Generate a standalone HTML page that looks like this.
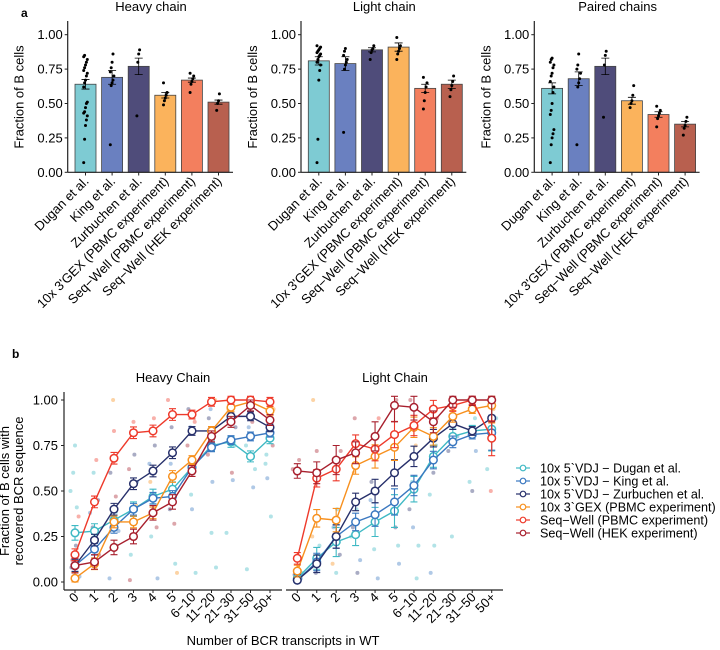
<!DOCTYPE html>
<html><head><meta charset="utf-8"><style>
body{margin:0;background:#fff;}
svg{display:block;font-family:"Liberation Sans",Arial,sans-serif;}
</style></head><body>
<svg id="fig" width="720" height="650" viewBox="0 0 720 650"></svg>
<script>
// ---------- Panel a data ----------
const barCats = ["Dugan et al.","King et al.","Zurbuchen et al.","10x 3'GEX (PBMC experiment)","Seq\u2212Well (PBMC experiment)","Seq\u2212Well (HEK experiment)"];
const barTitles = ["Heavy chain","Light chain","Paired chains"];
const heavyMeans = [0.64,0.69,0.77,0.56,0.67,0.51];
const heavyErr = [0.035,0.05,0.06,0.02,0.015,0.015];
const lightMeans = [0.81,0.79,0.89,0.91,0.61,0.64];
const lightErr = [0.03,0.05,0.015,0.03,0.03,0.03];
const pairedMeans = [0.61,0.68,0.77,0.52,0.42,0.35];
const pairedErr = [0.04,0.05,0.06,0.025,0.02,0.02];
const heavyDots = [[0.07,0.24,0.34,0.38,0.41,0.43,0.44,0.47,0.5,0.51,0.62,0.65,0.67,0.7,0.72,0.74,0.76,0.78,0.8,0.82,0.84,0.85],[0.2,0.63,0.65,0.67,0.7,0.73,0.76,0.8,0.86],[0.41,0.8,0.86,0.89],[0.49,0.52,0.54,0.56,0.58,0.65],[0.58,0.64,0.66,0.68,0.7,0.72],[0.45,0.5,0.52,0.57]];
const lightDots = [[0.07,0.24,0.67,0.74,0.78,0.8,0.82,0.84,0.85,0.86,0.87,0.88,0.89,0.9,0.91,0.92],[0.29,0.75,0.78,0.8,0.82,0.85,0.88,0.9],[0.82,0.87,0.89,0.9,0.92],[0.82,0.86,0.88,0.9,0.92,0.98],[0.46,0.52,0.58,0.62,0.65,0.69],[0.55,0.6,0.63,0.66,0.7]];
const pairedDots = [[0.07,0.2,0.25,0.28,0.31,0.42,0.45,0.5,0.58,0.62,0.66,0.7,0.72,0.76,0.78,0.8,0.82,0.83],[0.2,0.62,0.65,0.68,0.72,0.75,0.78,0.86],[0.4,0.78,0.85,0.88],[0.47,0.5,0.52,0.56,0.63],[0.33,0.39,0.41,0.43,0.45,0.48],[0.27,0.32,0.34,0.37,0.4]];
const barTicks = [0,0.25,0.5,0.75,1.0];

// ---------- Panel b data ----------
const lineCats = ["0","1","2","3","4","5","6\u221210","11\u221220","21\u221230","31\u221250","50+"];
const seriesNames = ["10x 5`VDJ \u2212 Dugan et al.","10x 5`VDJ \u2212 King et al.","10x 5`VDJ \u2212 Zurbuchen et al.","10x 3`GEX (PBMC experiment)","Seq\u2212Well (PBMC experiment)","Seq\u2212Well (HEK experiment)"];
const heavyDugan = [0.27,0.28,0.34,0.40,0.47,0.51,0.63,0.75,0.77,0.69,0.79];
const heavyKing = [0.09,0.18,0.30,0.40,0.46,0.47,0.63,0.74,0.78,0.80,0.82];
const heavyZurb = [0.09,0.23,0.40,0.54,0.61,0.71,0.83,0.83,0.91,0.91,0.85];
const heavyGex = [0.02,0.10,0.33,0.33,0.38,0.58,0.67,0.83,0.96,0.99,0.94];
const heavySeqPbmc = [0.15,0.44,0.68,0.82,0.83,0.92,0.92,0.99,1.0,1.0,0.99];
const heavyHek = [0.09,0.11,0.19,0.25,0.38,0.44,0.61,0.80,0.88,0.97,0.89];
const lightDugan = [0.02,0.13,0.22,0.26,0.33,0.39,0.51,0.69,0.80,0.83,0.84];
const lightKing = [0.01,0.11,0.25,0.33,0.37,0.44,0.53,0.67,0.77,0.81,0.82];
const lightZurb = [0.01,0.10,0.25,0.44,0.50,0.60,0.69,0.79,0.87,0.83,0.90];
const lightGex = [0.06,0.35,0.34,0.64,0.69,0.74,0.85,0.80,0.91,0.95,0.97];
const lightSeqPbmc = [0.13,0.57,0.62,0.76,0.73,0.81,0.86,0.95,0.97,1.0,0.79];
const lightHek = [0.61,0.60,0.67,0.71,0.80,0.97,0.96,0.88,1.0,1.0,1.0];
const lineErr = [0.04,0.04,0.04,0.04,0.04,0.04,0.03,0.03,0.03,0.03,0.03];
const lightErrHigh = [0.04,0.06,0.08,0.06,0.08,0.09,0.07,0.06,0.04,0.03,0.12];
const lineTicks = [0,0.25,0.5,0.75,1.0];
// scatter: [category index, value, series index]
const heavyScatter = [[0,0.5,0],[0,0.41,0],[0,0.6,0],[0,0.03,1],[0,0.2,2],[0,0.12,5],[0,0.36,4],[0,0.75,0],[0,0.08,2],[0,0.15,0],[1,0.6,0],[1,0.38,1],[1,0.67,4],[1,0.3,2],[1,0.15,5],[1,0.08,3],[1,0.22,0],[1,0.45,2],[2,0.83,4],[2,0.6,2],[2,0.2,0],[2,1.0,3],[2,0.02,1],[2,0.47,5],[2,0.35,0],[2,0.28,1],[3,0.7,2],[3,0.15,0],[3,0.55,1],[3,0.88,4],[3,0.01,5],[3,0.42,3],[3,0.32,0],[3,0.62,5],[4,0.75,2],[4,0.25,0],[4,0.02,1],[4,0.9,4],[4,0.55,3],[4,0.3,5],[4,0.45,0],[4,0.65,1],[5,0.1,0],[5,0.85,2],[5,1.0,4],[5,0.32,5],[5,0.65,1],[5,0.05,3],[5,0.5,0],[5,0.4,2],[6,0.05,0],[6,0.4,1],[6,0.95,2],[6,0.88,4],[6,0.48,0],[6,0.75,5],[6,0.65,0],[6,0.85,1],[7,0.08,0],[7,0.55,1],[7,0.9,2],[7,1.0,3],[7,0.27,0],[7,0.7,5],[7,0.8,0],[7,0.95,1],[8,0.27,0],[8,0.56,1],[8,1.0,4],[8,0.85,2],[8,0.6,5],[8,0.95,3],[8,0.75,0],[8,0.9,1],[9,0.07,0],[9,0.52,1],[9,0.95,2],[9,0.75,0],[9,0.88,5],[9,0.85,1],[9,0.62,0],[10,0.36,0],[10,0.57,1],[10,0.95,3],[10,1.0,4],[10,0.7,0],[10,0.75,5],[10,0.85,2],[10,0.65,0]];
const lightScatter = [[0,0.62,5],[0,0.67,5],[0,0.0,1],[0,0.05,0],[0,0.09,3],[0,0.04,2],[0,0.02,1],[1,0.72,5],[1,1.0,3],[1,0.2,0],[1,0.05,2],[1,0.25,3],[1,0.15,1],[1,0.1,0],[2,0.72,5],[2,0.4,0],[2,0.3,1],[2,0.15,2],[2,0.05,0],[2,0.1,3],[2,0.22,1],[3,0.9,5],[3,0.25,0],[3,0.05,2],[3,0.6,3],[3,0.12,1],[3,0.4,0],[3,0.3,2],[4,0.9,4],[4,0.35,0],[4,0.55,2],[4,0.02,1],[4,0.18,0],[4,0.45,1],[5,1.0,5],[5,0.6,0],[5,0.1,1],[5,0.3,2],[5,0.8,3],[5,0.2,0],[5,0.45,0],[6,1.0,5],[6,0.02,0],[6,0.3,1],[6,0.4,2],[6,0.75,3],[6,0.55,0],[6,0.2,0],[7,0.2,0],[7,0.05,1],[7,0.9,4],[7,0.6,2],[7,0.48,0],[7,0.75,0],[8,0.25,0],[8,0.72,2],[8,1.0,5],[8,0.9,0],[8,0.8,1],[8,0.85,0],[9,0.55,0],[9,0.72,1],[9,0.5,2],[9,1.0,4],[9,0.9,0],[10,0.5,4],[10,0.62,0],[10,0.95,3],[10,0.8,1],[10,0.9,0]];
const lineColors = ["#3fb9c4","#3a78c0","#27306b","#f7901e","#ee3a2b","#a8202e"];
const barColors = ["#7ecbd3","#6a80c0","#4f4c7a","#fbb35c","#f37f5e","#b8604f"];

const NS = "http://www.w3.org/2000/svg";
const svg = document.getElementById('fig');
function mk(tag, attrs, parent, text){
  const e = document.createElementNS(NS, tag);
  for (const k in attrs) e.setAttribute(k, attrs[k]);
  if (text !== undefined) e.textContent = text;
  (parent||svg).appendChild(e);
  return e;
}

// ---------- Panel a ----------
let t = mk('text',{x:21,y:17,'font-size':12,'font-weight':'bold'},svg,'a');


const barSets = [[heavyMeans,heavyErr,heavyDots],[lightMeans,lightErr,lightDots],[pairedMeans,pairedErr,pairedDots]];
const yA = v => 172.3 - v*137.6;
barSets.forEach((set,p)=>{
  const off = p*233.3;
  const g = mk('g',{});
  
  
  const axX = 67.7+off;
  const tt = mk('text',{x:151+off,y:11,'font-size':13,'text-anchor':'middle'},g,barTitles[p]);
  
  
  const yt = mk('text',{x:0,y:0,'font-size':13,'text-anchor':'middle',transform:`translate(${axX-44},${97}) rotate(-90)`},g,'Fraction of B cells');
  
  
  barTicks.forEach(v=>{
    mk('line',{x1:axX-3,x2:axX,y1:yA(v),y2:yA(v),stroke:'#222'},g);
    const l = mk('text',{x:axX-5,y:yA(v)+4.5,'font-size':13,'text-anchor':'end'},g,v.toFixed(2));
    
    
  });
  set[0].forEach((m,i)=>{
    const cx = 85.5+off+i*26.6;
    const r = mk('rect',{x:cx-10.5,y:yA(m),width:21,height:yA(0)-yA(m),fill:barColors[i],stroke:'#444','stroke-width':0.8},g);
    
    
    set[2][i].forEach((d,j)=>{
      mk('circle',{cx:cx+((j%5)-2)*0.9,cy:yA(d),r:1.5,fill:'#000'},g);
    });
    const e = set[1][i];
    mk('path',{d:`M${cx} ${yA(m-e)}V${yA(m+e)}M${cx-4} ${yA(m-e)}H${cx+4}M${cx-4} ${yA(m+e)}H${cx+4}`,stroke:'#000','stroke-width':0.8,fill:'none'},g);
    mk('line',{x1:cx,x2:cx,y1:172.3,y2:175.5,stroke:'#222'},g);
    const lab = mk('text',{x:0,y:0,'font-size':13,'text-anchor':'end',transform:`translate(${cx+4},${182}) rotate(-45)`},g,barCats[i]);
    
    
  });
  mk('line',{x1:axX,x2:axX,y1:21,y2:172.3,stroke:'#222','stroke-width':1.2},g);
  mk('line',{x1:axX,x2:233+off,y1:172.3,y2:172.3,stroke:'#222','stroke-width':1.2},g);
});

// ---------- Panel b ----------
t = mk('text',{x:12,y:358,'font-size':12,'font-weight':'bold'},svg,'b');


const yB = v => 582 - v*182;
const lineSets = [
  {x0:75, step:19.5, ax0:64, ax1:282, title:'Heavy Chain', tx:173, ser:[heavyDugan,heavyKing,heavyZurb,heavyGex,heavySeqPbmc,heavyHek], sc:heavyScatter, err:lineErr},
  {x0:297.3, step:19.44, ax0:286, ax1:503, title:'Light Chain', tx:395, ser:[lightDugan,lightKing,lightZurb,lightGex,lightSeqPbmc,lightHek], sc:lightScatter, err:lightErrHigh}
];
lineSets.forEach((P,p)=>{
  const g = mk('g',{});
  
  
  const xB = i => P.x0 + i*P.step;
  const tt = mk('text',{x:P.tx,y:382,'font-size':13,'text-anchor':'middle'},g,P.title);
  
  
  P.sc.forEach((d,k)=>{
    mk('circle',{cx:xB(d[0])+((k*7)%11-5)*0.9,cy:yB(d[1]),r:2,fill:lineColors[d[2]],opacity:0.4},g);
  });
  P.ser.forEach((vals,s)=>{
    const sg = mk('g',{},g);
    
    
    let d='';
    vals.forEach((v,i)=>{ d += (i?'L':'M')+xB(i)+' '+yB(v); });
    mk('path',{d:d,stroke:lineColors[s],'stroke-width':1.4,fill:'none'},sg);
    vals.forEach((v,i)=>{
      const e = P.err[i]*(s===0||s===5?1:0.8);
      const x = xB(i);
      mk('path',{d:`M${x} ${yB(Math.max(0,v-e))}V${yB(Math.min(1.02,v+e))}M${x-3.5} ${yB(Math.max(0,v-e))}H${x+3.5}M${x-3.5} ${yB(Math.min(1.02,v+e))}H${x+3.5}`,stroke:lineColors[s],'stroke-width':1.1,fill:'none'},sg);
      const c = mk('circle',{cx:x,cy:yB(v),r:3.8,fill:'#fff',stroke:lineColors[s],'stroke-width':1.5},sg);
      
      
    });
  });
  lineCats.forEach((c,i)=>{
    mk('line',{x1:xB(i),x2:xB(i),y1:590,y2:593,stroke:'#222'},g);
    const l = mk('text',{x:0,y:0,'font-size':13,'text-anchor':'end',transform:`translate(${xB(i)+4.5},${598}) rotate(-45)`},g,c);
    
    
  });
  mk('line',{x1:P.ax0,x2:P.ax1,y1:590,y2:590,stroke:'#222','stroke-width':1.2},g);
  if(p===0){
    mk('line',{x1:64,x2:64,y1:392,y2:590,stroke:'#222','stroke-width':1.2},g);
    lineTicks.forEach(v=>{
      mk('line',{x1:61,x2:64,y1:yB(v),y2:yB(v),stroke:'#222'},g);
      const l = mk('text',{x:58,y:yB(v)+4.5,'font-size':13,'text-anchor':'end'},g,v.toFixed(2));
      
      
    });
  }
});
t = mk('text',{x:0,y:0,'font-size':13,'text-anchor':'middle',transform:'translate(9,491) rotate(-90)'},svg,'Fraction of B cells with');


t = mk('text',{x:0,y:0,'font-size':13,'text-anchor':'middle',transform:'translate(23,491) rotate(-90)'},svg,'recovered BCR sequence');


t = mk('text',{x:283,y:645,'font-size':13,'text-anchor':'middle'},svg,'Number of BCR transcripts in WT');



// legend
const lg = mk('g',{});


seriesNames.forEach((n,s)=>{
  const y = 468 + s*13;
  const eg = mk('g',{},lg);
  
  
  mk('line',{x1:516,x2:530,y1:y,y2:y,stroke:lineColors[s],'stroke-width':1.2},eg);
  mk('circle',{cx:523,cy:y,r:2.8,fill:'#fff',stroke:lineColors[s],'stroke-width':1.2},eg);
  mk('text',{x:540,y:y+4.5,'font-size':12.6},eg,n);
});
</script>
</body></html>
